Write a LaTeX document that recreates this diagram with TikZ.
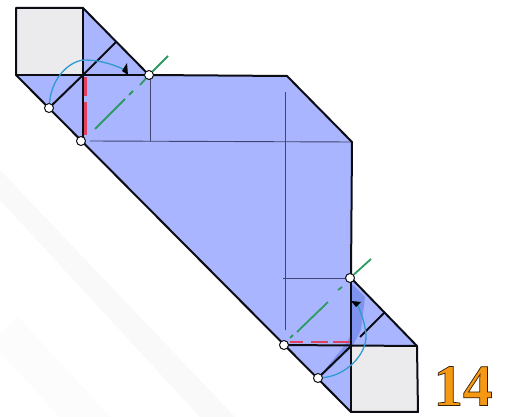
\documentclass[tikz,border=0pt]{standalone}
\font\numfont="Liberation Serif/B:embolden=1.2" at 59pt
\definecolor{paper}{HTML}{A9B6FF}
\definecolor{paperdark}{HTML}{7F93EE}
\definecolor{backside}{HTML}{EBEBED}
\definecolor{inkblack}{HTML}{0C0C14}
\definecolor{thinline}{HTML}{3F4470}
\definecolor{foldgreen}{HTML}{2E9A62}
\definecolor{foldred}{HTML}{E2405F}
\definecolor{arcblue}{HTML}{2F9AD0}
\tikzset{
  edge/.style={draw=inkblack,line width=2pt,line join=round},
  thin fold/.style={draw=thinline,line width=0.9pt},
  valley/.style={draw=foldred,line width=2.2pt},
  mountain/.style={draw=foldgreen,line width=1.8pt},
  swing/.style={draw=arcblue,line width=1.3pt},
  tip/.style={fill=black,draw=none},
  pin/.style={circle,draw=inkblack,fill=white,line width=1pt,minimum size=9pt,inner sep=0pt},
  band/.style={fill=#1,draw=none}
}
\begin{document}
\begin{tikzpicture}[x=1pt,y=-1pt]
\useasboundingbox (0,0) rectangle (507,417);
\fill[white] (0,0) rectangle (507,417);
% faint background bands
\begin{scope}
\clip (0,0) rectangle (507,417);
\fill[band=black!2.2] (0,170) -- (235,417) -- (200,417) -- (0,200) -- cycle;
\fill[band=black!1] (18,317) -- (110,417) -- (60,417) -- (0,352) -- (0,335) -- cycle;
\end{scope}
% named points
\coordinate (tl) at (16,8);
\coordinate (tm) at (83,8);
\coordinate (ml) at (16,75);
\coordinate (c1) at (83,75);
\coordinate (e1) at (116,42);
\coordinate (tr) at (287,76);
\coordinate (rt) at (352,142);
\coordinate (c2) at (351,346);
\coordinate (e2) at (385,312);
\coordinate (br) at (417,346);
\coordinate (brb) at (418,412);
\coordinate (bm) at (351,412);
% paper
\fill[paper] (tm) -- (149,75) -- (tr) -- (rt) -- (351,278) -- (br) -- (bm) -- (ml) -- (c1) -- cycle;
\fill[backside] (tl) rectangle (c1);
\fill[backside] (c2) -- (br) -- (brb) -- (bm) -- cycle;
% darker flap
\fill[paperdark] (351,283) -- (365,297) -- (361,330) -- (352,347) -- (325,373) -- (318,378) -- (345,345) -- (351,335) -- cycle;
% thin creases
\draw[thin fold] (150,75) -- (150,141);
\draw[thin fold] (90,141) -- (352,142);
\draw[thin fold] (285,92) -- (285,330);
\draw[thin fold] (283,278) -- (351,278);
% outline
\draw[edge] (tl) -- (tm) -- (149,75) -- (tr) -- (rt) -- (351,278) -- (br) -- (brb) -- (bm) -- (ml) -- cycle;
\draw[edge] (ml) -- (c1) -- (149,75);
\draw[edge] (tm) -- (83,141);
\draw[edge] (c1) -- (e1);
\draw[edge] (c1) -- (49,108);
\draw[edge] (351,278) -- (bm);
\draw[edge] (284,345) -- (br);
\draw[edge] (c2) -- (318,378);
\draw[edge] (360,337) -- (e2);
% pins
\node[pin] (p1) at (49,108) {};
\node[pin] (p2) at (81,141) {};
\node[pin] (p3) at (149,75) {};
\node[pin] (p4) at (284,345) {};
\node[pin] (p5) at (318,378) {};
\node[pin] (p6) at (350,278) {};
% red valley folds
\draw[valley] (85.5,77) -- (85.5,96);
\draw[valley] (85.5,102) -- (85.5,135);
\draw[valley] (290,342) -- (303,342);
\draw[valley] (311,342) -- (328,342);
\draw[valley] (333,342) -- (350,342);
% green mountain folds
\draw[mountain] (95,129) -- (125,99);
\draw[mountain] (129,95) -- (133,91);
\draw[mountain] (140,85) -- (p3);
\draw[mountain] (p3) -- (168,56);
\draw[mountain] (290,338) -- (293,335);
\draw[mountain] (297,332) -- (328,302);
\draw[mountain] (338,290) -- (342,287);
\draw[mountain] (p6) -- (371,259);
% swing arrows
\draw[swing] (p1) .. controls (52,75) and (72,60) .. (85,60) .. controls (100,60) and (115,65) .. (125,70);
\fill[tip] (122,71) -- (127,63) -- (128,75) -- cycle;
\draw[swing] (p5) .. controls (345,376) and (367,355) .. (366,335) .. controls (365,322) and (360,310) .. (356,301);
\fill[tip] (351,301) -- (361,302) -- (356,307) -- cycle;
% step number
\node[inner sep=0pt,anchor=center] (num) at (463,386) {\special{pdf:bcolor [0.96 0.6 0.08] [0.2 0.12 0.04]}\numfont 14\special{pdf:ecolor}};
\end{tikzpicture}
\end{document}
